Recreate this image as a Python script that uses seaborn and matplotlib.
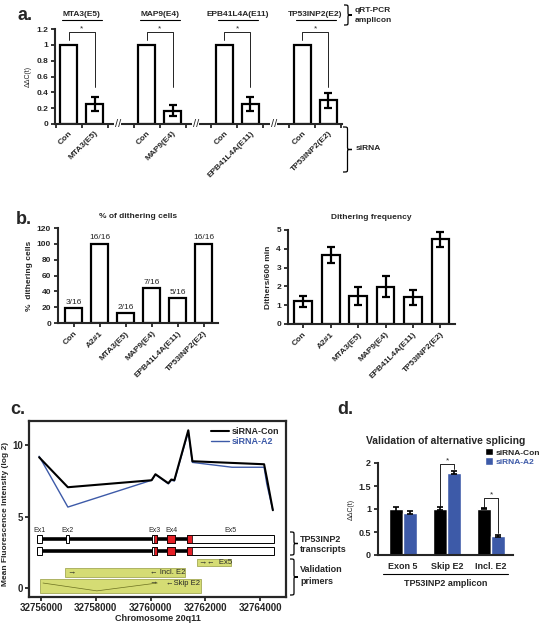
import numpy as np
import pandas as pd
import seaborn as sns
import matplotlib.pyplot as plt
import matplotlib.transforms as mtransforms
from matplotlib.path import Path
from matplotlib.patches import PathPatch, Rectangle, Patch

# ---------------- data ----------------
# panel a: qRT-PCR after exon-specific siRNA
a_genes = ["MTA3(E5)", "MAP9(E4)", "EPB41L4A(E11)", "TP53INP2(E2)"]
a_con = [1.0, 1.0, 1.0, 1.0]
a_kd = [0.255, 0.17, 0.25, 0.30]
a_kd_err = [0.085, 0.075, 0.085, 0.097]

# panel b
b_labels = ["Con", "A2#1", "MTA3(E5)", "MAP9(E4)", "EPB41L4A(E11)", "TP53INP2(E2)"]
b_pct = [18.75, 100, 12.5, 43.75, 31.25, 100]
b_frac = ["3/16", "16/16", "2/16", "7/16", "5/16", "16/16"]
b_freq = [1.2, 3.67, 1.49, 1.99, 1.42, 4.5]
b_freq_err = [0.3, 0.41, 0.5, 0.55, 0.41, 0.39]

# panel c: exon array profile along TP53INP2
c_pos_con = [32755930, 32756980, 32760040, 32760180, 32760650, 32760760, 32760870,
             32761380, 32761530, 32764150, 32764250, 32764470]
c_con = [9.16, 7.06, 7.55, 7.97, 7.34, 7.6, 7.55, 11.05, 8.88, 8.67, 7.7, 5.45]
c_pos_a2 = [32755930, 32756980, 32760040, 32760180, 32760650, 32760760, 32760870,
            32761380, 32761530, 32762980, 32764150, 32764250, 32764470]
c_a2 = [9.23, 5.67, 7.55, 7.95, 7.3, 7.55, 7.5, 10.95, 8.8, 8.46, 8.46, 7.27, 5.45]

ex_names = ["Ex1", "Ex2", "Ex3", "Ex4", "Ex5"]
ex_start = [32755850, 32756910, 32760050, 32760600, 32761320]
ex_end = [32756040, 32757030, 32760230, 32760910, 32764520]
ex_cds_start = [None, None, 32760130, 32760600, 32761320]
ex_cds_end = [None, None, 32760230, 32760910, 32761520]
transcript_y = [3.43, 2.59]
transcript_exons = [[0, 1, 2, 3, 4], [0, 2, 3, 4]]

primer_x0 = [32761680, 32756880, 32755960]
primer_x1 = [32762930, 32761250, 32761840]
primer_y0 = [1.54, 0.77, -0.35]
primer_y1 = [2.03, 1.40, 0.63]

# panel d
d_amplicons = ["Exon 5", "Skip E2", "Incl. E2"]
d_con = [0.99, 1.01, 1.01]
d_con_err = [0.06, 0.03, 0.02]
d_a2 = [0.92, 1.79, 0.42]
d_a2_err = [0.03, 0.03, 0.02]

BLUE = "#3d5aa8"
W, H = 546, 623

sns.set_style("ticks")
plt.rcParams['font.family'] = ['Liberation Sans', 'DejaVu Sans']
plt.rcParams['axes.linewidth'] = 1.5
plt.rcParams['xtick.major.width'] = 1.3
plt.rcParams['ytick.major.width'] = 1.3
plt.rcParams['xtick.minor.width'] = 1.3
plt.rcParams['xtick.major.size'] = 3
plt.rcParams['ytick.major.size'] = 3
plt.rcParams['xtick.major.pad'] = 2
plt.rcParams['ytick.major.pad'] = 2

fig = plt.figure(figsize=(5.46, 6.23), dpi=100)
PX = mtransforms.Affine2D().scale(1 / W, -1 / H).translate(0, 1) + fig.transFigure


def add_ax(x0, y0, x1, y1):
    return fig.add_axes([x0 / W, 1 - y1 / H, (x1 - x0) / W, (y1 - y0) / H])


def ftext(x, y, s, **kw):
    fig.text(x, y, s, transform=PX, **kw)


def brace(x, y0, y1, w):
    ym = (y0 + y1) / 2
    q = 3
    h = x + w * 0.5
    verts = [(x, y0), (h, y0), (h, y0), (h, y0 + q), (h, ym - q),
             (h, ym), (h, ym), (x + w, ym),
             (h, ym), (h, ym), (h, ym + q), (h, y1 - q),
             (h, y1), (h, y1), (x, y1)]
    codes = [Path.MOVETO, Path.CURVE4, Path.CURVE4, Path.CURVE4, Path.LINETO,
             Path.CURVE4, Path.CURVE4, Path.CURVE4,
             Path.CURVE4, Path.CURVE4, Path.CURVE4, Path.LINETO,
             Path.CURVE4, Path.CURVE4, Path.CURVE4]
    fig.add_artist(PathPatch(Path(verts, codes), fill=False, lw=0.9, color="black", transform=PX))


# ======================================================
# a.
# ======================================================
ax_a = add_ax(55, 29, 342, 124)
rows, order_a, tick_keys = [], [], []
for i, g in enumerate(a_genes):
    rows.append({"key": "Con|" + g, "value": a_con[i]})
    rows.append({"key": g, "value": a_kd[i]})
    order_a += ["Con|" + g, g]
    tick_keys += ["Con|" + g, g]
    if i < len(a_genes) - 1:
        order_a.append("gap%d" % i)
df_a = pd.DataFrame(rows)
sns.barplot(data=df_a, x="key", y="value", order=order_a, color="white", edgecolor="black",
            linewidth=1.6, width=0.63, errorbar=None, ax=ax_a)
kd_pos = [order_a.index(g) for g in a_genes]
con_pos = [order_a.index("Con|" + g) for g in a_genes]
ax_a.errorbar(kd_pos, a_kd, yerr=a_kd_err, fmt="none", ecolor="black", elinewidth=1.6,
              capsize=3, capthick=1.6)
ax_a.set_xlim(-0.52, 10.52)
ax_a.set_ylim(0, 1.2)
ax_a.set_yticks(np.arange(0, 1.21, 0.2))
ax_a.set_yticklabels(["0", "0.2", "0.4", "0.6", "0.8", "1", "1.2"], fontsize=6, fontweight="bold")
ax_a.set_xticks([order_a.index(k) for k in tick_keys])
ax_a.set_xticklabels(["Con" if k.startswith("Con|") else k for k in tick_keys],
                     rotation=45, ha="right", rotation_mode="anchor", fontsize=6, fontweight="bold")
ax_a.tick_params(axis="x", length=0, pad=4)
ax_a.set_xticks([p + d for p in con_pos for d in (-0.5, 0.5, 1.5)], minor=True)
ax_a.tick_params(axis="x", which="minor", length=3, direction="out")
ax_a.set_xlabel("")
ax_a.set_ylabel("ΔΔC(t)", fontsize=5, labelpad=3)
sns.despine(ax=ax_a)
blend_a = mtransforms.blended_transform_factory(ax_a.transData, PX)
for i, g in enumerate(a_genes):
    c = con_pos[i]
    ax_a.plot([c, c, c + 1, c + 1], [1.06, 1.16, 1.16, 0.47], color="black", lw=0.6)
    ax_a.text(c + 0.5, 1.16, "*", ha="center", va="bottom", fontsize=6)
    ax_a.text(c + 0.5, 14, g, ha="center", va="center", fontsize=6, fontweight="bold",
              transform=blend_a)
    ax_a.plot([c - 0.25, c + 1.27], [20, 20], color="black", lw=0.8, transform=blend_a,
              clip_on=False)
    if i < len(a_genes) - 1:
        ax_a.text(c + 1.9, 0, "//", ha="center", va="center", fontsize=8,
                  bbox=dict(facecolor="white", edgecolor="none", pad=0.3), clip_on=False)
ftext(18, 16, "a.", fontsize=13, fontweight="bold", va="center", ha="left")
brace(344, 5, 25, 8)
ftext(355, 10, "qRT-PCR", fontsize=6, fontweight="bold", va="center")
ftext(355, 20, "amplicon", fontsize=6, fontweight="bold", va="center")
brace(343, 127, 172, 9)
ftext(356, 149, "siRNA", fontsize=6, fontweight="bold", va="center")

# ======================================================
# b.
# ======================================================
ax_b1 = add_ax(58, 228, 218, 323)
df_b = pd.DataFrame({"label": b_labels, "pct": b_pct, "freq": b_freq})
sns.barplot(data=df_b, x="label", y="pct", color="white", edgecolor="black", linewidth=1.6,
            width=0.65, errorbar=None, ax=ax_b1)
for i, (v, t) in enumerate(zip(b_pct, b_frac)):
    ax_b1.text(i, v + 3, t, ha="center", va="bottom", fontsize=6)
ax_b1.set_xlim(-0.6, 5.55)
ax_b1.set_ylim(0, 120)
ax_b1.set_yticks(range(0, 121, 20))
ax_b1.tick_params(axis="y", labelsize=6)
ax_b1.tick_params(axis="x", length=3)
for t in ax_b1.get_yticklabels():
    t.set_fontweight("bold")
ax_b1.set_xticks(range(len(b_labels)))
ax_b1.set_xticklabels(b_labels, rotation=45, ha="right", rotation_mode="anchor",
                      fontsize=6, fontweight="bold")
ax_b1.set_xlabel("")
ax_b1.set_ylabel("%  dithering cells", fontsize=6, fontweight="bold", labelpad=3)
ax_b1.set_title("% of dithering cells", fontsize=6, fontweight="bold", pad=7)
sns.despine(ax=ax_b1)

ax_b2 = add_ax(288, 230, 455, 324)
sns.barplot(data=df_b, x="label", y="freq", color="white", edgecolor="black", linewidth=1.6,
            width=0.65, errorbar=None, ax=ax_b2)
ax_b2.errorbar(range(len(b_labels)), b_freq, yerr=b_freq_err, fmt="none", ecolor="black",
               elinewidth=1.6, capsize=3, capthick=1.6)
ax_b2.set_xlim(-0.55, 5.53)
ax_b2.set_ylim(0, 5)
ax_b2.set_yticks(range(0, 6))
ax_b2.tick_params(axis="y", labelsize=6)
ax_b2.tick_params(axis="x", length=3)
for t in ax_b2.get_yticklabels():
    t.set_fontweight("bold")
ax_b2.set_xticks(range(len(b_labels)))
ax_b2.set_xticklabels(b_labels, rotation=45, ha="right", rotation_mode="anchor",
                      fontsize=6, fontweight="bold")
ax_b2.set_xlabel("")
ax_b2.set_ylabel("Dithers/600 min", fontsize=6, fontweight="bold", labelpad=3)
ax_b2.set_title("Dithering frequency", fontsize=6, fontweight="bold", pad=8)
sns.despine(ax=ax_b2)
ftext(16, 220, "b.", fontsize=13, fontweight="bold", va="center", ha="left")

# ======================================================
# c.
# ======================================================
ax_c = add_ax(29, 421, 286, 597)
sns.lineplot(x=c_pos_a2, y=c_a2, color=BLUE, lw=1.0, sort=False, estimator=None,
             label="siRNA-A2", ax=ax_c)
sns.lineplot(x=c_pos_con, y=c_con, color="black", lw=1.5, sort=False, estimator=None,
             label="siRNA-Con", ax=ax_c)
ax_c.set_xlim(32755560, 32764950)
ax_c.set_ylim(-0.63, 11.7)
ax_c.set_xticks(range(32756000, 32764001, 2000))
ax_c.set_xticklabels([str(v) for v in range(32756000, 32764001, 2000)], fontsize=7,
                     fontweight="bold")
ax_c.set_yticks([0, 5, 10])
ax_c.set_yticklabels(["0", "5", "10"], fontsize=7, fontweight="bold")
ax_c.tick_params(axis="both", pad=1)
ax_c.set_xlabel("Chromosome 20q11", fontsize=6.5, fontweight="bold", labelpad=1)
ax_c.set_ylabel("Mean Fluorescence Intensity (log 2)", fontsize=6, fontweight="bold", labelpad=1)
ax_c.yaxis.set_label_coords(-0.078, 0.47)
for s in ax_c.spines.values():
    s.set_linewidth(1.6)

# transcripts
for ty, exs in zip(transcript_y, transcript_exons):
    ax_c.plot([ex_start[0], ex_start[4]], [ty, ty], color="black", lw=2.6, solid_capstyle="butt")
    for e in exs:
        ax_c.add_patch(Rectangle((ex_start[e], ty - 0.25), ex_end[e] - ex_start[e], 0.5,
                                 facecolor="white", edgecolor="black", lw=0.7, zorder=3))
        if ex_cds_start[e] is not None:
            ax_c.add_patch(Rectangle((ex_cds_start[e], ty - 0.25), ex_cds_end[e] - ex_cds_start[e],
                                     0.5, facecolor="#e41f26", edgecolor="black", lw=0.5, zorder=4))
for e, name in enumerate(ex_names):
    ax_c.text((ex_start[e] + ex_end[e]) / 2, 4.06, name, ha="center", va="center", fontsize=5)

# validation primers
for x0, x1, y0, y1 in zip(primer_x0, primer_x1, primer_y0, primer_y1):
    ax_c.add_patch(Rectangle((x0, y0), x1 - x0, y1 - y0, facecolor="#d5dc74",
                             edgecolor="#a4aa55", lw=0.6, zorder=2))
ax_c.text(32761730, 1.78, "→", fontsize=6, va="center", ha="left", zorder=5)
ax_c.text(32762050, 1.78, "←  Ex5", fontsize=5.5, va="center", ha="left", zorder=5)
ax_c.text(32756950, 1.08, "→", fontsize=6, va="center", ha="left", zorder=5)
ax_c.text(32759980, 1.08, "← Incl. E2", fontsize=5.5, va="center", ha="left", zorder=5)
ax_c.plot([32756070, 32758040, 32760250], [0.35, -0.2, 0.35], color="#6b7020", lw=0.5, zorder=3)
ax_c.text(32759950, 0.35, "→", fontsize=6, va="center", ha="left", zorder=5)
ax_c.text(32760550, 0.35, "←Skip E2", fontsize=5.5, va="center", ha="left", zorder=5)

h, l = ax_c.get_legend_handles_labels()
leg = ax_c.legend(h[::-1], l[::-1], loc="upper right", frameon=False, fontsize=6.5,
                  handlelength=2.0, handletextpad=0.4, labelspacing=0.05, borderaxespad=0.3)
for t in leg.get_texts():
    t.set_fontweight("bold")
leg.get_texts()[1].set_color(BLUE)

ftext(10, 410, "c.", fontsize=13, fontweight="bold", va="center", ha="left")
brace(290, 532, 555, 8)
ftext(300, 539, "TP53INP2", fontsize=6.5, fontweight="bold", va="center")
ftext(300, 550, "transcripts", fontsize=6.5, fontweight="bold", va="center")
brace(290, 559, 595, 8)
ftext(300, 570, "Validation", fontsize=6.5, fontweight="bold", va="center")
ftext(300, 581, "primers", fontsize=6.5, fontweight="bold", va="center")

# ======================================================
# d.
# ======================================================
ax_d = add_ax(378, 463, 513, 555)
df_d = pd.DataFrame({
    "amplicon": d_amplicons * 2,
    "siRNA": ["siRNA-Con"] * 3 + ["siRNA-A2"] * 3,
    "value": d_con + d_a2,
})
sns.barplot(data=df_d, x="amplicon", y="value", hue="siRNA", order=d_amplicons,
            hue_order=["siRNA-Con", "siRNA-A2"], palette=["black", BLUE], saturation=1,
            width=0.64, errorbar=None, legend=False, ax=ax_d)
xs = np.arange(len(d_amplicons))
ax_d.errorbar(xs - 0.16, d_con, yerr=d_con_err, fmt="none", ecolor="black", elinewidth=1.2,
              capsize=2.5, capthick=1.2)
ax_d.errorbar(xs + 0.16, d_a2, yerr=d_a2_err, fmt="none", ecolor="black", elinewidth=1.2,
              capsize=2.5, capthick=1.2)
ax_d.plot([1 - 0.16, 1 - 0.16, 1 + 0.16, 1 + 0.16], [1.04, 1.98, 1.98, 1.87], color="black", lw=0.6)
ax_d.text(1, 1.98, "*", ha="center", va="bottom", fontsize=6)
ax_d.plot([2 - 0.16, 2 - 0.16, 2 + 0.16, 2 + 0.16], [1.04, 1.24, 1.24, 0.48], color="black", lw=0.6)
ax_d.text(2, 1.24, "*", ha="center", va="bottom", fontsize=6)
ax_d.set_xlim(-0.57, 2.5)
ax_d.set_ylim(0, 2)
ax_d.set_yticks([0, 0.5, 1, 1.5, 2])
ax_d.set_yticklabels(["0", "0.5", "1", "1.5", "2"], fontsize=6.5, fontweight="bold")
ax_d.set_xticks(xs)
ax_d.set_xticklabels(d_amplicons, fontsize=6.5, fontweight="bold")
ax_d.tick_params(axis="x", length=0, pad=5)
ax_d.set_xlabel("")
ax_d.set_ylabel("ΔΔC(t)", fontsize=5, labelpad=3)
sns.despine(ax=ax_d)
ax_d.set_title("Validation of alternative splicing", fontsize=7.5, fontweight="bold", pad=14)
legd = ax_d.legend([Patch(facecolor="black"), Patch(facecolor=BLUE)], ["siRNA-Con", "siRNA-A2"],
                   loc="upper left", bbox_to_anchor=(485 / W, 1 - 448 / H),
                   bbox_transform=fig.transFigure, frameon=False, fontsize=6,
                   handlelength=1.0, handleheight=1.0, handletextpad=0.3, borderpad=0,
                   borderaxespad=0, labelspacing=0.1)
for t in legd.get_texts():
    t.set_fontweight("bold")
legd.get_texts()[1].set_color(BLUE)
fig.add_artist(plt.Line2D([383 / W, 508 / W], [1 - 574 / H, 1 - 574 / H], color="black", lw=0.8))
ftext(446, 584, "TP53INP2 amplicon", fontsize=6.5, fontweight="bold", ha="center", va="center")
ftext(337, 409, "d.", fontsize=13, fontweight="bold", va="center", ha="left")

fig.savefig("out.png", dpi=100)
